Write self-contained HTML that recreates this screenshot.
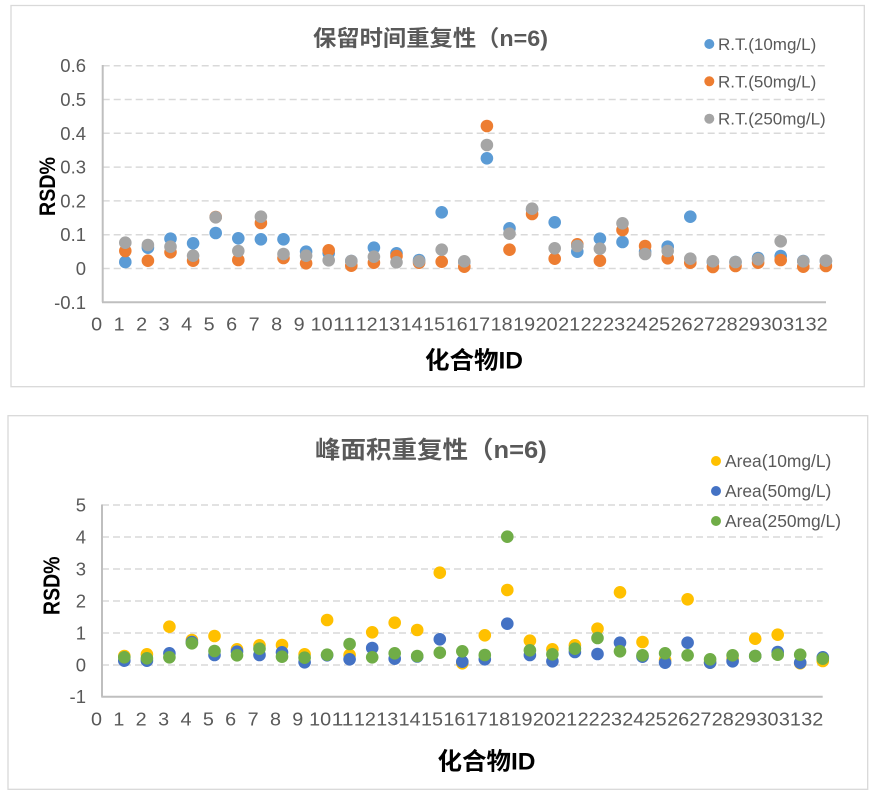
<!DOCTYPE html>
<html><head><meta charset="utf-8">
<style>
html,body{margin:0;padding:0;background:#fff;}
svg{display:block;}
.tk{font-family:"Liberation Sans","DejaVu Sans",sans-serif;font-size:18.5px;fill:#595959;}
.xt{font-family:"Liberation Sans","DejaVu Sans",sans-serif;font-size:18px;fill:#595959;text-anchor:middle;}
.lg{font-family:"Liberation Sans","DejaVu Sans",sans-serif;fill:#595959;}
.ttl{font-family:"Liberation Sans","Noto Sans CJK SC",sans-serif;font-weight:bold;fill:#595959;}
.ax{font-family:"Liberation Sans","Noto Sans CJK SC",sans-serif;font-weight:bold;fill:#000;}
</style></head>
<body>
<svg width="879" height="804" viewBox="0 0 879 804" xmlns="http://www.w3.org/2000/svg">
<rect x="0" y="0" width="879" height="804" fill="#fff"/>

<!-- ========== TOP CHART ========== -->
<rect x="11" y="5.5" width="853.3" height="381.2" fill="#fff" stroke="#D9D9D9" stroke-width="1.3"/>
<text class="ttl" x="313" y="46" font-size="22" textLength="235" lengthAdjust="spacingAndGlyphs">保留时间重复性（n=6)</text>

<g stroke="#D9D9D9" stroke-width="1.5" stroke-dasharray="7,4">
<line x1="102.7" y1="65.7" x2="826" y2="65.7"/>
<line x1="102.7" y1="99.5" x2="826" y2="99.5"/>
<line x1="102.7" y1="133.3" x2="826" y2="133.3"/>
<line x1="102.7" y1="167.1" x2="826" y2="167.1"/>
<line x1="102.7" y1="200.9" x2="826" y2="200.9"/>
<line x1="102.7" y1="234.7" x2="826" y2="234.7"/>
<line x1="102.7" y1="268.5" x2="826" y2="268.5"/>
</g>
<g stroke="#BFBFBF" stroke-width="2">
<line x1="102.7" y1="65" x2="102.7" y2="302.3"/>
<line x1="102" y1="302.3" x2="826" y2="302.3"/>
</g>

<g class="tk" text-anchor="end">
<text x="86" y="72.2">0.6</text>
<text x="86" y="106">0.5</text>
<text x="86" y="139.8">0.4</text>
<text x="86" y="173.6">0.3</text>
<text x="86" y="207.4">0.2</text>
<text x="86" y="241.2">0.1</text>
<text x="86" y="275">0</text>
<text x="86" y="308.8">-0.1</text>
</g>

<g class="xt" lengthAdjust="spacingAndGlyphs">
<text x="96.7" y="330.4" textLength="11" lengthAdjust="spacingAndGlyphs">0</text><text x="119.2" y="330.4" textLength="11" lengthAdjust="spacingAndGlyphs">1</text><text x="141.7" y="330.4" textLength="11" lengthAdjust="spacingAndGlyphs">2</text><text x="164.2" y="330.4" textLength="11" lengthAdjust="spacingAndGlyphs">3</text><text x="186.7" y="330.4" textLength="11" lengthAdjust="spacingAndGlyphs">4</text><text x="209.2" y="330.4" textLength="11" lengthAdjust="spacingAndGlyphs">5</text><text x="231.7" y="330.4" textLength="11" lengthAdjust="spacingAndGlyphs">6</text><text x="254.2" y="330.4" textLength="11" lengthAdjust="spacingAndGlyphs">7</text><text x="276.7" y="330.4" textLength="11" lengthAdjust="spacingAndGlyphs">8</text><text x="299.2" y="330.4" textLength="11" lengthAdjust="spacingAndGlyphs">9</text><text x="321.7" y="330.4" textLength="22" lengthAdjust="spacingAndGlyphs">10</text><text x="344.2" y="330.4" textLength="22" lengthAdjust="spacingAndGlyphs">11</text><text x="366.7" y="330.4" textLength="22" lengthAdjust="spacingAndGlyphs">12</text><text x="389.2" y="330.4" textLength="22" lengthAdjust="spacingAndGlyphs">13</text><text x="411.7" y="330.4" textLength="22" lengthAdjust="spacingAndGlyphs">14</text><text x="434.2" y="330.4" textLength="22" lengthAdjust="spacingAndGlyphs">15</text><text x="456.7" y="330.4" textLength="22" lengthAdjust="spacingAndGlyphs">16</text><text x="479.2" y="330.4" textLength="22" lengthAdjust="spacingAndGlyphs">17</text><text x="501.7" y="330.4" textLength="22" lengthAdjust="spacingAndGlyphs">18</text><text x="524.2" y="330.4" textLength="22" lengthAdjust="spacingAndGlyphs">19</text><text x="546.7" y="330.4" textLength="22" lengthAdjust="spacingAndGlyphs">20</text><text x="569.2" y="330.4" textLength="22" lengthAdjust="spacingAndGlyphs">21</text><text x="591.7" y="330.4" textLength="22" lengthAdjust="spacingAndGlyphs">22</text><text x="614.2" y="330.4" textLength="22" lengthAdjust="spacingAndGlyphs">23</text><text x="636.7" y="330.4" textLength="22" lengthAdjust="spacingAndGlyphs">24</text><text x="659.2" y="330.4" textLength="22" lengthAdjust="spacingAndGlyphs">25</text><text x="681.7" y="330.4" textLength="22" lengthAdjust="spacingAndGlyphs">26</text><text x="704.2" y="330.4" textLength="22" lengthAdjust="spacingAndGlyphs">27</text><text x="726.7" y="330.4" textLength="22" lengthAdjust="spacingAndGlyphs">28</text><text x="749.2" y="330.4" textLength="22" lengthAdjust="spacingAndGlyphs">29</text><text x="771.7" y="330.4" textLength="22" lengthAdjust="spacingAndGlyphs">30</text><text x="794.2" y="330.4" textLength="22" lengthAdjust="spacingAndGlyphs">31</text><text x="816.7" y="330.4" textLength="22" lengthAdjust="spacingAndGlyphs">32</text>
</g>

<text class="ax" x="425" y="368.5" font-size="24" textLength="98" lengthAdjust="spacingAndGlyphs">化合物ID</text>
<text class="ax" transform="translate(55,216) rotate(-90)" x="0" y="0" font-size="22" textLength="59" lengthAdjust="spacingAndGlyphs">RSD%</text>

<!-- blue series -->
<g fill="#5B9BD5">
<circle cx="125.3" cy="262" r="6.3"/><circle cx="147.9" cy="247.7" r="6.3"/><circle cx="170.5" cy="238.7" r="6.3"/><circle cx="193.1" cy="243.3" r="6.3"/><circle cx="215.7" cy="233" r="6.3"/><circle cx="238.3" cy="238.3" r="6.3"/><circle cx="260.9" cy="239.3" r="6.3"/><circle cx="283.5" cy="239.3" r="6.3"/><circle cx="306.1" cy="251.7" r="6.3"/><circle cx="328.7" cy="253.3" r="6.3"/><circle cx="351.3" cy="261" r="6.3"/><circle cx="373.9" cy="247.7" r="6.3"/><circle cx="396.5" cy="253.3" r="6.3"/><circle cx="419.1" cy="260" r="6.3"/><circle cx="441.7" cy="212.3" r="6.3"/><circle cx="464.3" cy="262" r="6.3"/><circle cx="486.9" cy="158.3" r="6.3"/><circle cx="509.5" cy="228.3" r="6.3"/><circle cx="532.1" cy="209.5" r="6.3"/><circle cx="554.7" cy="222.3" r="6.3"/><circle cx="577.3" cy="251.7" r="6.3"/><circle cx="599.9" cy="238.7" r="6.3"/><circle cx="622.5" cy="242" r="6.3"/><circle cx="645.1" cy="251.7" r="6.3"/><circle cx="667.7" cy="246.7" r="6.3"/><circle cx="690.3" cy="216.7" r="6.3"/><circle cx="712.9" cy="262" r="6.3"/><circle cx="735.5" cy="262" r="6.3"/><circle cx="758.1" cy="258" r="6.3"/><circle cx="780.7" cy="256" r="6.3"/><circle cx="803.3" cy="261" r="6.3"/><circle cx="825.9" cy="261" r="6.3"/>
</g>
<!-- orange series -->
<g fill="#ED7D31">
<circle cx="125.3" cy="251" r="6.3"/><circle cx="147.9" cy="260.7" r="6.3"/><circle cx="170.5" cy="252.3" r="6.3"/><circle cx="193.1" cy="260.7" r="6.3"/><circle cx="215.7" cy="217" r="6.3"/><circle cx="238.3" cy="260" r="6.3"/><circle cx="260.9" cy="223" r="6.3"/><circle cx="283.5" cy="258" r="6.3"/><circle cx="306.1" cy="263.3" r="6.3"/><circle cx="328.7" cy="250.3" r="6.3"/><circle cx="351.3" cy="265.7" r="6.3"/><circle cx="373.9" cy="262.7" r="6.3"/><circle cx="396.5" cy="256" r="6.3"/><circle cx="419.1" cy="262.7" r="6.3"/><circle cx="441.7" cy="261.7" r="6.3"/><circle cx="464.3" cy="266.7" r="6.3"/><circle cx="486.9" cy="126" r="6.3"/><circle cx="509.5" cy="249.7" r="6.3"/><circle cx="532.1" cy="214" r="6.3"/><circle cx="554.7" cy="258.7" r="6.3"/><circle cx="577.3" cy="244.3" r="6.3"/><circle cx="599.9" cy="260.7" r="6.3"/><circle cx="622.5" cy="230" r="6.3"/><circle cx="645.1" cy="246" r="6.3"/><circle cx="667.7" cy="258.3" r="6.3"/><circle cx="690.3" cy="262.7" r="6.3"/><circle cx="712.9" cy="267" r="6.3"/><circle cx="735.5" cy="266" r="6.3"/><circle cx="758.1" cy="262.7" r="6.3"/><circle cx="780.7" cy="260" r="6.3"/><circle cx="803.3" cy="266.7" r="6.3"/><circle cx="825.9" cy="266" r="6.3"/>
</g>
<!-- gray series -->
<g fill="#A5A5A5">
<circle cx="125.3" cy="242.7" r="6.3"/><circle cx="147.9" cy="245" r="6.3"/><circle cx="170.5" cy="246.7" r="6.3"/><circle cx="193.1" cy="255.7" r="6.3"/><circle cx="215.7" cy="217.3" r="6.3"/><circle cx="238.3" cy="251" r="6.3"/><circle cx="260.9" cy="216.7" r="6.3"/><circle cx="283.5" cy="254" r="6.3"/><circle cx="306.1" cy="255.7" r="6.3"/><circle cx="328.7" cy="260.3" r="6.3"/><circle cx="351.3" cy="261" r="6.3"/><circle cx="373.9" cy="256.7" r="6.3"/><circle cx="396.5" cy="262.3" r="6.3"/><circle cx="419.1" cy="261.3" r="6.3"/><circle cx="441.7" cy="249.7" r="6.3"/><circle cx="464.3" cy="261.3" r="6.3"/><circle cx="486.9" cy="145" r="6.3"/><circle cx="509.5" cy="233.7" r="6.3"/><circle cx="532.1" cy="208.7" r="6.3"/><circle cx="554.7" cy="248.3" r="6.3"/><circle cx="577.3" cy="246" r="6.3"/><circle cx="599.9" cy="248.7" r="6.3"/><circle cx="622.5" cy="223.3" r="6.3"/><circle cx="645.1" cy="254" r="6.3"/><circle cx="667.7" cy="251" r="6.3"/><circle cx="690.3" cy="258.7" r="6.3"/><circle cx="712.9" cy="261.3" r="6.3"/><circle cx="735.5" cy="262" r="6.3"/><circle cx="758.1" cy="259.3" r="6.3"/><circle cx="780.7" cy="241.3" r="6.3"/><circle cx="803.3" cy="261.3" r="6.3"/><circle cx="825.9" cy="260.7" r="6.3"/>
</g>

<!-- top legend -->
<circle cx="709.3" cy="44" r="5" fill="#5B9BD5"/>
<circle cx="709.3" cy="81.3" r="5" fill="#ED7D31"/>
<circle cx="709.3" cy="118.7" r="5" fill="#A5A5A5"/>
<text class="lg" x="718" y="50" font-size="17">R.T.(10mg/L)</text>
<text class="lg" x="718" y="87.3" font-size="17">R.T.(50mg/L)</text>
<text class="lg" x="718" y="124.7" font-size="17">R.T.(250mg/L)</text>

<!-- ========== BOTTOM CHART ========== -->
<rect x="8" y="415.7" width="859.7" height="373.6" fill="#fff" stroke="#D9D9D9" stroke-width="1.3"/>
<text class="ttl" x="315" y="458" font-size="24" textLength="231.7" lengthAdjust="spacingAndGlyphs">峰面积重复性（n=6)</text>

<g stroke="#D9D9D9" stroke-width="1.5" stroke-dasharray="7,4">
<line x1="102" y1="505" x2="822.7" y2="505"/>
<line x1="102" y1="537" x2="822.7" y2="537"/>
<line x1="102" y1="569" x2="822.7" y2="569"/>
<line x1="102" y1="601" x2="822.7" y2="601"/>
<line x1="102" y1="633" x2="822.7" y2="633"/>
<line x1="102" y1="665" x2="822.7" y2="665"/>
</g>
<g stroke="#BFBFBF" stroke-width="2">
<line x1="102" y1="504.5" x2="102" y2="696.7"/>
<line x1="101.3" y1="696.7" x2="822.7" y2="696.7"/>
</g>

<g class="tk" text-anchor="end">
<text x="86" y="511.5">5</text>
<text x="86" y="543.5">4</text>
<text x="86" y="575.5">3</text>
<text x="86" y="607.5">2</text>
<text x="86" y="639.5">1</text>
<text x="86" y="671.5">0</text>
<text x="86" y="703.2">-1</text>
</g>

<g class="xt">
<text x="96.5" y="725.4" textLength="11" lengthAdjust="spacingAndGlyphs">0</text><text x="118.9" y="725.4" textLength="11" lengthAdjust="spacingAndGlyphs">1</text><text x="141.2" y="725.4" textLength="11" lengthAdjust="spacingAndGlyphs">2</text><text x="163.6" y="725.4" textLength="11" lengthAdjust="spacingAndGlyphs">3</text><text x="186" y="725.4" textLength="11" lengthAdjust="spacingAndGlyphs">4</text><text x="208.4" y="725.4" textLength="11" lengthAdjust="spacingAndGlyphs">5</text><text x="230.7" y="725.4" textLength="11" lengthAdjust="spacingAndGlyphs">6</text><text x="253.1" y="725.4" textLength="11" lengthAdjust="spacingAndGlyphs">7</text><text x="275.5" y="725.4" textLength="11" lengthAdjust="spacingAndGlyphs">8</text><text x="297.8" y="725.4" textLength="11" lengthAdjust="spacingAndGlyphs">9</text><text x="320.2" y="725.4" textLength="22" lengthAdjust="spacingAndGlyphs">10</text><text x="342.6" y="725.4" textLength="22" lengthAdjust="spacingAndGlyphs">11</text><text x="364.9" y="725.4" textLength="22" lengthAdjust="spacingAndGlyphs">12</text><text x="387.3" y="725.4" textLength="22" lengthAdjust="spacingAndGlyphs">13</text><text x="409.7" y="725.4" textLength="22" lengthAdjust="spacingAndGlyphs">14</text><text x="432" y="725.4" textLength="22" lengthAdjust="spacingAndGlyphs">15</text><text x="454.4" y="725.4" textLength="22" lengthAdjust="spacingAndGlyphs">16</text><text x="476.8" y="725.4" textLength="22" lengthAdjust="spacingAndGlyphs">17</text><text x="499.1" y="725.4" textLength="22" lengthAdjust="spacingAndGlyphs">18</text><text x="521.5" y="725.4" textLength="22" lengthAdjust="spacingAndGlyphs">19</text><text x="543.9" y="725.4" textLength="22" lengthAdjust="spacingAndGlyphs">20</text><text x="566.2" y="725.4" textLength="22" lengthAdjust="spacingAndGlyphs">21</text><text x="588.6" y="725.4" textLength="22" lengthAdjust="spacingAndGlyphs">22</text><text x="611" y="725.4" textLength="22" lengthAdjust="spacingAndGlyphs">23</text><text x="633.3" y="725.4" textLength="22" lengthAdjust="spacingAndGlyphs">24</text><text x="655.7" y="725.4" textLength="22" lengthAdjust="spacingAndGlyphs">25</text><text x="678.1" y="725.4" textLength="22" lengthAdjust="spacingAndGlyphs">26</text><text x="700.4" y="725.4" textLength="22" lengthAdjust="spacingAndGlyphs">27</text><text x="722.8" y="725.4" textLength="22" lengthAdjust="spacingAndGlyphs">28</text><text x="745.2" y="725.4" textLength="22" lengthAdjust="spacingAndGlyphs">29</text><text x="767.5" y="725.4" textLength="22" lengthAdjust="spacingAndGlyphs">30</text><text x="789.9" y="725.4" textLength="22" lengthAdjust="spacingAndGlyphs">31</text><text x="812.3" y="725.4" textLength="22" lengthAdjust="spacingAndGlyphs">32</text>
</g>

<text class="ax" x="437.5" y="769.5" font-size="24" textLength="98" lengthAdjust="spacingAndGlyphs">化合物ID</text>
<text class="ax" transform="translate(59.3,615) rotate(-90)" x="0" y="0" font-size="23" textLength="58.5" lengthAdjust="spacingAndGlyphs">RSD%</text>

<!-- yellow series -->
<g fill="#FFC000">
<circle cx="124.3" cy="656" r="6.3"/><circle cx="146.9" cy="654.3" r="6.3"/><circle cx="169.4" cy="626.7" r="6.3"/><circle cx="191.9" cy="640" r="6.3"/><circle cx="214.5" cy="636" r="6.3"/><circle cx="237" cy="649.3" r="6.3"/><circle cx="259.5" cy="645.3" r="6.3"/><circle cx="282" cy="645" r="6.3"/><circle cx="304.6" cy="654.3" r="6.3"/><circle cx="327.1" cy="620" r="6.3"/><circle cx="349.6" cy="655" r="6.3"/><circle cx="372.2" cy="632.3" r="6.3"/><circle cx="394.7" cy="622.7" r="6.3"/><circle cx="417.2" cy="630" r="6.3"/><circle cx="439.8" cy="572.7" r="6.3"/><circle cx="462.3" cy="663.3" r="6.3"/><circle cx="484.8" cy="635.3" r="6.3"/><circle cx="507.3" cy="590" r="6.3"/><circle cx="529.9" cy="640.7" r="6.3"/><circle cx="552.4" cy="649.3" r="6.3"/><circle cx="574.9" cy="645.3" r="6.3"/><circle cx="597.5" cy="628.7" r="6.3"/><circle cx="620" cy="592.3" r="6.3"/><circle cx="642.5" cy="642" r="6.3"/><circle cx="665.1" cy="660" r="6.3"/><circle cx="687.6" cy="599.3" r="6.3"/><circle cx="710.1" cy="662.7" r="6.3"/><circle cx="732.6" cy="659" r="6.3"/><circle cx="755.2" cy="638.7" r="6.3"/><circle cx="777.7" cy="634.7" r="6.3"/><circle cx="800.2" cy="663.3" r="6.3"/><circle cx="822.8" cy="661" r="6.3"/>
</g>
<!-- dark blue series -->
<g fill="#4472C4">
<circle cx="124.3" cy="660.7" r="6.3"/><circle cx="146.9" cy="660.7" r="6.3"/><circle cx="169.4" cy="653.3" r="6.3"/><circle cx="191.9" cy="642" r="6.3"/><circle cx="214.5" cy="655" r="6.3"/><circle cx="237" cy="651.7" r="6.3"/><circle cx="259.5" cy="655" r="6.3"/><circle cx="282" cy="652.3" r="6.3"/><circle cx="304.6" cy="662.3" r="6.3"/><circle cx="327.1" cy="655.3" r="6.3"/><circle cx="349.6" cy="659.3" r="6.3"/><circle cx="372.2" cy="648" r="6.3"/><circle cx="394.7" cy="658.7" r="6.3"/><circle cx="417.2" cy="656.5" r="6.3"/><circle cx="439.8" cy="639.3" r="6.3"/><circle cx="462.3" cy="661.7" r="6.3"/><circle cx="484.8" cy="659.3" r="6.3"/><circle cx="507.3" cy="623.7" r="6.3"/><circle cx="529.9" cy="655" r="6.3"/><circle cx="552.4" cy="661.3" r="6.3"/><circle cx="574.9" cy="652" r="6.3"/><circle cx="597.5" cy="654" r="6.3"/><circle cx="620" cy="642.7" r="6.3"/><circle cx="642.5" cy="656.7" r="6.3"/><circle cx="665.1" cy="662.7" r="6.3"/><circle cx="687.6" cy="642.7" r="6.3"/><circle cx="710.1" cy="662.7" r="6.3"/><circle cx="732.6" cy="661.3" r="6.3"/><circle cx="755.2" cy="656" r="6.3"/><circle cx="777.7" cy="652" r="6.3"/><circle cx="800.2" cy="662.7" r="6.3"/><circle cx="822.8" cy="657.3" r="6.3"/>
</g>
<!-- green series -->
<g fill="#70AD47">
<circle cx="124.3" cy="657.3" r="6.3"/><circle cx="146.9" cy="658.3" r="6.3"/><circle cx="169.4" cy="657.3" r="6.3"/><circle cx="191.9" cy="643.3" r="6.3"/><circle cx="214.5" cy="651" r="6.3"/><circle cx="237" cy="655.3" r="6.3"/><circle cx="259.5" cy="648.7" r="6.3"/><circle cx="282" cy="656.7" r="6.3"/><circle cx="304.6" cy="657.7" r="6.3"/><circle cx="327.1" cy="654.7" r="6.3"/><circle cx="349.6" cy="644" r="6.3"/><circle cx="372.2" cy="657.3" r="6.3"/><circle cx="394.7" cy="653.3" r="6.3"/><circle cx="417.2" cy="656" r="6.3"/><circle cx="439.8" cy="652.7" r="6.3"/><circle cx="462.3" cy="651.3" r="6.3"/><circle cx="484.8" cy="655" r="6.3"/><circle cx="507.3" cy="536.7" r="6.3"/><circle cx="529.9" cy="650.3" r="6.3"/><circle cx="552.4" cy="654.3" r="6.3"/><circle cx="574.9" cy="648.7" r="6.3"/><circle cx="597.5" cy="638" r="6.3"/><circle cx="620" cy="651.3" r="6.3"/><circle cx="642.5" cy="655.3" r="6.3"/><circle cx="665.1" cy="653.3" r="6.3"/><circle cx="687.6" cy="655.3" r="6.3"/><circle cx="710.1" cy="659.3" r="6.3"/><circle cx="732.6" cy="655.3" r="6.3"/><circle cx="755.2" cy="656" r="6.3"/><circle cx="777.7" cy="654.7" r="6.3"/><circle cx="800.2" cy="654.7" r="6.3"/><circle cx="822.8" cy="658.7" r="6.3"/>
</g>

<!-- bottom legend -->
<circle cx="716" cy="461" r="5" fill="#FFC000"/>
<circle cx="716" cy="491" r="5" fill="#4472C4"/>
<circle cx="716" cy="521" r="5" fill="#70AD47"/>
<text class="lg" x="725" y="467.2" font-size="17.4">Area(10mg/L)</text>
<text class="lg" x="725" y="497.2" font-size="17.4">Area(50mg/L)</text>
<text class="lg" x="725" y="527.2" font-size="17.4">Area(250mg/L)</text>
</svg>
</body></html>
